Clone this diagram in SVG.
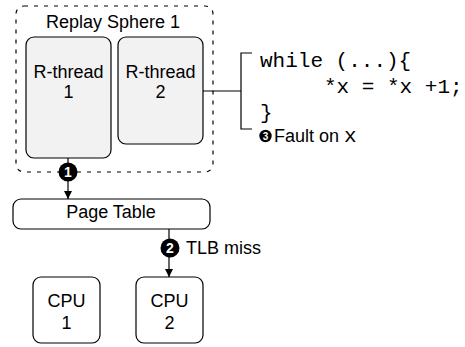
<svg xmlns="http://www.w3.org/2000/svg" width="465" height="347" viewBox="0 0 465 347">
<defs>
<marker id="arr" viewBox="0 0 10 10" refX="10" refY="5" markerWidth="8" markerHeight="10" markerUnits="userSpaceOnUse" orient="auto">
<path d="M0,0 L10,5 L0,10 Z" fill="#000"/>
</marker>
<style>
.box{fill:#fff;stroke:#000;stroke-width:1.2}
.thr{fill:#f2f2f2;stroke:#000;stroke-width:1.2}
.lbl{font-family:"Liberation Sans",Arial,sans-serif;font-size:18px;fill:#000;text-anchor:middle}
.txt{font-family:"Liberation Sans",Arial,sans-serif;font-size:18px;fill:#000}
.code{font-family:"Liberation Mono","Courier New",monospace;font-size:21px;fill:#000}
.line{fill:none;stroke:#000;stroke-width:1.2}
.badge{fill:#000}
.num{font-family:"Liberation Sans",Arial,sans-serif;font-weight:bold;fill:#fff;text-anchor:middle}
</style>
</defs>
<rect width="465" height="347" fill="#fff"/>
<g id="sphere">
<rect x="16" y="6" width="197" height="166" rx="8" fill="none" stroke="#000" stroke-width="1.2" stroke-dasharray="4 6"/>
<text class="lbl" x="113" y="28">Replay Sphere 1</text>
</g>
<g id="rthread1">
<rect class="thr" x="26" y="37" width="85" height="121" rx="8"/>
<text class="lbl" x="68.5" y="78">R-thread</text>
<text class="lbl" x="68.5" y="98">1</text>
</g>
<g id="rthread2">
<rect class="thr" x="118" y="37" width="85" height="107" rx="8"/>
<text class="lbl" x="160.5" y="78">R-thread</text>
<text class="lbl" x="160.5" y="98">2</text>
</g>
<g id="pagetable">
<rect class="box" x="13" y="199" width="197" height="30" rx="8"/>
<text class="lbl" x="111" y="218">Page Table</text>
</g>
<g id="cpu1">
<rect class="box" x="33" y="277" width="67" height="66" rx="8"/>
<text class="lbl" x="66.5" y="307">CPU</text>
<text class="lbl" x="66.5" y="329">1</text>
</g>
<g id="cpu2">
<rect class="box" x="136" y="277" width="67" height="66" rx="8"/>
<text class="lbl" x="169.5" y="307">CPU</text>
<text class="lbl" x="169.5" y="329">2</text>
</g>
<g id="code">
<text class="code" x="260" y="67" xml:space="preserve">while (...){</text>
<text class="code" x="324" y="93">*x = *x +1;</text>
<text class="code" x="260" y="119">}</text>
</g>
<g id="connectors">
<line class="line" x1="68" y1="158" x2="68" y2="199" marker-end="url(#arr)"/>
<line class="line" x1="169" y1="229" x2="169" y2="277" marker-end="url(#arr)"/>
<line class="line" x1="203" y1="91" x2="241" y2="91"/>
<path class="line" d="M252,53 H241 V129 H252"/>
</g>
<g id="badges">
<circle class="badge" cx="68" cy="172" r="9.5"/>
<text class="num" x="68" y="177" font-size="14">1</text>
<circle class="badge" cx="170" cy="248" r="9.5"/>
<text class="num" x="170" y="253" font-size="14">2</text>
<text class="txt" x="186" y="254">TLB miss</text>
<circle class="badge" cx="265.5" cy="136" r="6.2"/>
<text class="num" x="265.5" y="140" font-size="10">3</text>
<text class="txt" x="274" y="142" font-size="17px">Fault on <tspan class="code" font-size="20px">x</tspan></text>
</g>
</svg>
